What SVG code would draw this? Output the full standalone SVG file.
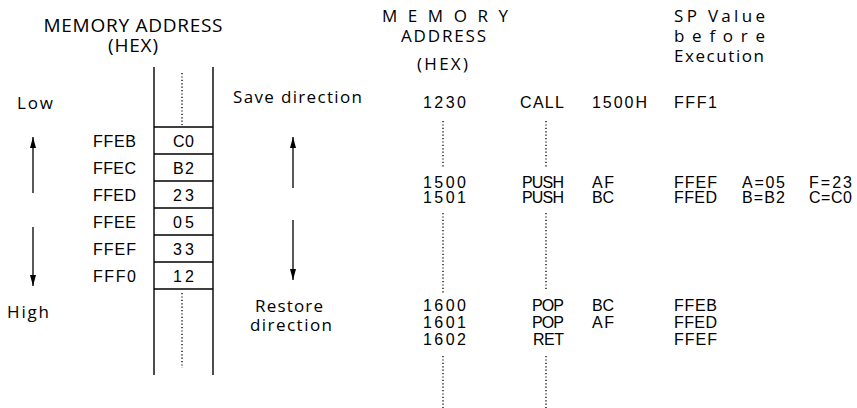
<svg xmlns="http://www.w3.org/2000/svg" width="857" height="408" viewBox="0 0 857 408">
<style>
.t{font-family:"Open Sans","Noto Sans","DejaVu Sans",sans-serif;font-size:17px;fill:#000}
.tl{font-family:"Open Sans","Noto Sans","DejaVu Sans",sans-serif;font-size:19px;fill:#000}
.c{font-family:"Liberation Sans",Arial,sans-serif;font-size:16px;fill:#000}
.e{text-anchor:end}
.m{text-anchor:middle}
.ln{stroke:#000;stroke-width:1.4;fill:none}
.ar{stroke:#000;stroke-width:1.3;fill:none;marker-end:url(#ah)}
.dt{stroke:#000;stroke-width:1.3;stroke-dasharray:1.2 2.2;fill:none}
</style>
<defs>
<marker id="ah" viewBox="0 0 11 6" refX="11" refY="3" markerWidth="11" markerHeight="6" markerUnits="userSpaceOnUse" orient="auto">
<path d="M0,0 L11,3 L0,6 z" fill="#000"/>
</marker>
</defs>
<rect width="857" height="408" fill="#fff"/>

<g id="left-title">
<text class="tl m" x="133" y="32" textLength="179" lengthAdjust="spacing">MEMORY ADDRESS</text>
<text class="tl m" x="133" y="52" textLength="50" lengthAdjust="spacing">(HEX)</text>
</g>

<g id="low-high">
<text class="t" x="17" y="109" textLength="36" lengthAdjust="spacing">Low</text>
<text class="t" x="7" y="318" textLength="42" lengthAdjust="spacing">High</text>
</g>

<g id="stack">
<line class="ln" x1="154" y1="67" x2="154" y2="375"/>
<line class="ln" x1="213" y1="67" x2="213" y2="375"/>
<line class="ln" x1="154" y1="127" x2="213" y2="127"/>
<line class="ln" x1="154" y1="154" x2="213" y2="154"/>
<line class="ln" x1="154" y1="181" x2="213" y2="181"/>
<line class="ln" x1="154" y1="208" x2="213" y2="208"/>
<line class="ln" x1="154" y1="235" x2="213" y2="235"/>
<line class="ln" x1="154" y1="262" x2="213" y2="262"/>
<line class="ln" x1="154" y1="289" x2="213" y2="289"/>
<line class="dt" x1="182" y1="73" x2="182" y2="125"/>
<line class="dt" x1="182" y1="293" x2="182" y2="368"/>
<text class="c m" x="183.5" y="147" textLength="21" lengthAdjust="spacing">C0</text>
<text class="c m" x="183.5" y="174" textLength="21" lengthAdjust="spacing">B2</text>
<text class="c m" x="183.5" y="201" textLength="21" lengthAdjust="spacing">23</text>
<text class="c m" x="183.5" y="228" textLength="21" lengthAdjust="spacing">05</text>
<text class="c m" x="183.5" y="255" textLength="21" lengthAdjust="spacing">33</text>
<text class="c m" x="183.5" y="282" textLength="21" lengthAdjust="spacing">12</text>
</g>

<g id="stack-addresses">
<text class="c" x="93" y="147" textLength="43" lengthAdjust="spacing">FFEB</text>
<text class="c" x="93" y="174" textLength="43" lengthAdjust="spacing">FFEC</text>
<text class="c" x="93" y="201" textLength="43" lengthAdjust="spacing">FFED</text>
<text class="c" x="93" y="228" textLength="43" lengthAdjust="spacing">FFEE</text>
<text class="c" x="93" y="255" textLength="43" lengthAdjust="spacing">FFEF</text>
<text class="c" x="93" y="282" textLength="43" lengthAdjust="spacing">FFF0</text>
</g>

<g id="direction-labels">
<text class="t" x="233" y="103" textLength="129" lengthAdjust="spacing">Save direction</text>
<text class="t" x="255" y="312" textLength="68" lengthAdjust="spacing">Restore</text>
<text class="t" x="250" y="331" textLength="82" lengthAdjust="spacing">direction</text>
</g>

<g id="connectors">
<line class="ar" x1="33" y1="193" x2="33" y2="137"/>
<line class="ar" x1="33" y1="227" x2="33" y2="286"/>
<line class="ar" x1="293" y1="188" x2="293" y2="137"/>
<line class="ar" x1="293" y1="220" x2="293" y2="280"/>
<line class="dt" x1="443" y1="121" x2="443" y2="167"/>
<line class="dt" x1="443" y1="213" x2="443" y2="294"/>
<line class="dt" x1="443" y1="356" x2="443" y2="408"/>
<line class="dt" x1="546" y1="121" x2="546" y2="167"/>
<line class="dt" x1="546" y1="213" x2="546" y2="290"/>
<line class="dt" x1="546" y1="356" x2="546" y2="408"/>
</g>

<g id="mid-title">
<text class="t m" x="445" y="22" textLength="126" lengthAdjust="spacing">M E M O R Y</text>
<text class="t m" x="443.5" y="42" textLength="85" lengthAdjust="spacing">ADDRESS</text>
<text class="t m" x="442.5" y="70" textLength="51" lengthAdjust="spacing">(HEX)</text>
</g>

<g id="sp-title">
<text class="t" x="674" y="22" textLength="91" lengthAdjust="spacing">SP Value</text>
<text class="t" x="674" y="42" textLength="91" lengthAdjust="spacing">b e f o r e</text>
<text class="t" x="674" y="62" textLength="90" lengthAdjust="spacing">Execution</text>
</g>

<g id="program">
<text class="c" x="423" y="108" textLength="43" lengthAdjust="spacing">1230</text>
<text class="c e" x="564" y="108" textLength="44" lengthAdjust="spacing">CALL</text>
<text class="c" x="592" y="108" textLength="55" lengthAdjust="spacing">1500H</text>
<text class="c" x="674" y="108" textLength="43" lengthAdjust="spacing">FFF1</text>

<text class="c" x="423" y="188" textLength="43" lengthAdjust="spacing">1500</text>
<text class="c e" x="564" y="188" textLength="42" lengthAdjust="spacing">PUSH</text>
<text class="c" x="592" y="188" textLength="22" lengthAdjust="spacing">AF</text>
<text class="c" x="674" y="188" textLength="43" lengthAdjust="spacing">FFEF</text>
<text class="c" x="742" y="188" textLength="43" lengthAdjust="spacing">A=05</text>
<text class="c" x="809" y="188" textLength="43" lengthAdjust="spacing">F=23</text>

<text class="c" x="423" y="203" textLength="43" lengthAdjust="spacing">1501</text>
<text class="c e" x="564" y="203" textLength="42" lengthAdjust="spacing">PUSH</text>
<text class="c" x="592" y="203" textLength="22" lengthAdjust="spacing">BC</text>
<text class="c" x="674" y="203" textLength="43" lengthAdjust="spacing">FFED</text>
<text class="c" x="742" y="203" textLength="43" lengthAdjust="spacing">B=B2</text>
<text class="c" x="809" y="203" textLength="43" lengthAdjust="spacing">C=C0</text>

<text class="c" x="423" y="311" textLength="43" lengthAdjust="spacing">1600</text>
<text class="c e" x="564" y="311" textLength="32" lengthAdjust="spacing">POP</text>
<text class="c" x="592" y="311" textLength="22" lengthAdjust="spacing">BC</text>
<text class="c" x="674" y="311" textLength="43" lengthAdjust="spacing">FFEB</text>

<text class="c" x="423" y="328" textLength="43" lengthAdjust="spacing">1601</text>
<text class="c e" x="564" y="328" textLength="32" lengthAdjust="spacing">POP</text>
<text class="c" x="592" y="328" textLength="22" lengthAdjust="spacing">AF</text>
<text class="c" x="674" y="328" textLength="43" lengthAdjust="spacing">FFED</text>

<text class="c" x="423" y="345" textLength="43" lengthAdjust="spacing">1602</text>
<text class="c e" x="564" y="345" textLength="31" lengthAdjust="spacing">RET</text>
<text class="c" x="674" y="345" textLength="43" lengthAdjust="spacing">FFEF</text>
</g>
</svg>
